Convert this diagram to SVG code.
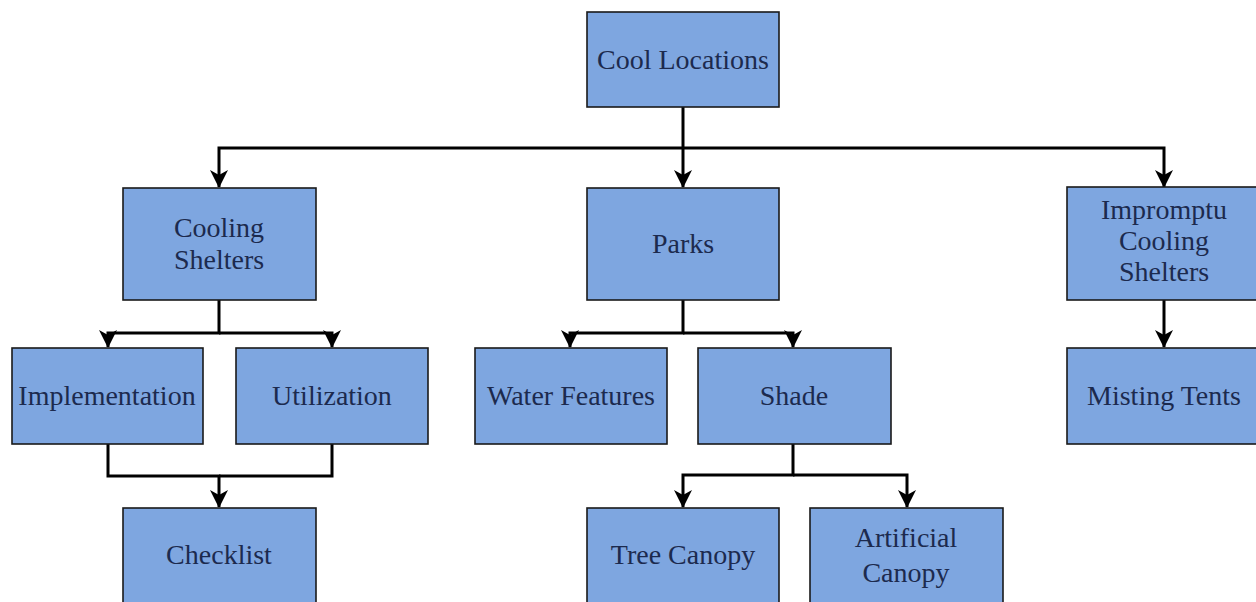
<svg xmlns="http://www.w3.org/2000/svg" width="1256" height="602" viewBox="0 0 1256 602">
<style>
.box{fill:#7EA6E0;stroke:#1a1a1a;stroke-width:1.6}
.lbl{font-family:"Liberation Serif","Times New Roman","DejaVu Serif",serif;font-size:28px;fill:#1c2a4e;text-anchor:middle}
.edge{fill:none;stroke:#000;stroke-width:3}
</style>
<defs>
<marker id="arr" markerUnits="userSpaceOnUse" markerWidth="18" markerHeight="18" refX="17" refY="9" orient="auto" viewBox="0 0 18 18" overflow="visible">
<path d="M0,0 L18,9 L0,18 L5,9 Z" fill="#000"/>
</marker>
</defs>
<rect width="1256" height="602" fill="#fff"/>
<g id="connectors">
<path class="edge" d="M683,107 V187" marker-end="url(#arr)"/>
<path class="edge" d="M683,148 H219 V187" marker-end="url(#arr)"/>
<path class="edge" d="M683,148 H1164 V187" marker-end="url(#arr)"/>
<path class="edge" d="M219,300 V333 H108 V347" marker-end="url(#arr)"/>
<path class="edge" d="M219,333 H332 V347" marker-end="url(#arr)"/>
<path class="edge" d="M683,300 V333 H570 V347" marker-end="url(#arr)"/>
<path class="edge" d="M683,333 H793 V347" marker-end="url(#arr)"/>
<path class="edge" d="M1164,300 V347" marker-end="url(#arr)"/>
<path class="edge" d="M108,444 V476 H219 V507" marker-end="url(#arr)"/>
<path class="edge" d="M332,444 V476 H219"/>
<path class="edge" d="M793,444 V475 H683 V507" marker-end="url(#arr)"/>
<path class="edge" d="M793,475 H907 V507" marker-end="url(#arr)"/>
</g>
<g id="cool-locations"><rect class="box" x="587" y="12" width="192" height="95"/><text class="lbl" x="683" y="69">Cool Locations</text></g>
<g id="cooling-shelters"><rect class="box" x="123" y="188" width="193" height="112"/><text class="lbl" x="219" y="237">Cooling</text><text class="lbl" x="219" y="269">Shelters</text></g>
<g id="parks"><rect class="box" x="587" y="188" width="192" height="112"/><text class="lbl" x="683" y="253">Parks</text></g>
<g id="impromptu"><rect class="box" x="1067" y="187" width="194" height="113"/><text class="lbl" x="1164" y="219">Impromptu</text><text class="lbl" x="1164" y="250">Cooling</text><text class="lbl" x="1164" y="281">Shelters</text></g>
<g id="implementation"><rect class="box" x="12" y="348" width="191" height="96"/><text class="lbl" x="107" y="405">Implementation</text></g>
<g id="utilization"><rect class="box" x="236" y="348" width="192" height="96"/><text class="lbl" x="332" y="405">Utilization</text></g>
<g id="water-features"><rect class="box" x="475" y="348" width="192" height="96"/><text class="lbl" x="571" y="405">Water Features</text></g>
<g id="shade"><rect class="box" x="698" y="348" width="193" height="96"/><text class="lbl" x="794" y="405">Shade</text></g>
<g id="misting-tents"><rect class="box" x="1067" y="348" width="194" height="96"/><text class="lbl" x="1164" y="405">Misting Tents</text></g>
<g id="checklist"><rect class="box" x="123" y="508" width="193" height="100"/><text class="lbl" x="219" y="564">Checklist</text></g>
<g id="tree-canopy"><rect class="box" x="587" y="508" width="192" height="100"/><text class="lbl" x="683" y="564">Tree Canopy</text></g>
<g id="artificial-canopy"><rect class="box" x="810" y="508" width="193" height="100"/><text class="lbl" x="906" y="547">Artificial</text><text class="lbl" x="906" y="582">Canopy</text></g>
</svg>
